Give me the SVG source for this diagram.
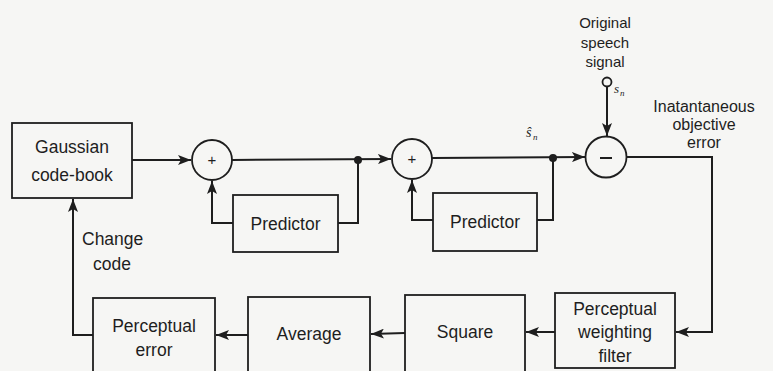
<svg xmlns="http://www.w3.org/2000/svg" width="773" height="371" viewBox="0 0 773 371">
<defs>
<marker id="ah" markerUnits="userSpaceOnUse" markerWidth="14" markerHeight="10" refX="13" refY="5" orient="auto">
<path d="M0,0 L13,5 L0,10 L3,5 Z" fill="#1e1e1e"/>
</marker>
<style>
.bx{fill:none;stroke:#1e1e1e;stroke-width:1.8}
.ln{fill:none;stroke:#1e1e1e;stroke-width:2}
.t{font-family:"Liberation Sans",Arial,sans-serif;font-size:17.5px;fill:#1e1e1e;text-anchor:middle}
.s{font-family:"Liberation Sans",Arial,sans-serif;font-size:15px;fill:#1e1e1e;text-anchor:middle}
.m{font-family:"Liberation Serif","Times New Roman",serif;font-style:italic;fill:#1e1e1e}
</style>
</defs>
<rect width="773" height="371" fill="#f6f6f4"/>

<g id="codebook">
<rect class="bx" x="12" y="123" width="120" height="75"/>
<text class="t" x="72" y="153">Gaussian</text>
<text class="t" x="72" y="181">code-book</text>
</g>
<g id="sum1">
<circle class="bx" cx="212" cy="160" r="20"/>
<text class="s" x="212" y="165" style="font-size:15px">+</text>
</g>
<g id="predictor1">
<rect class="bx" x="233" y="195" width="105" height="57"/>
<text class="t" x="285.5" y="230">Predictor</text>
</g>
<g id="sum2">
<circle class="bx" cx="412" cy="159" r="20"/>
<text class="s" x="412" y="164" style="font-size:15px">+</text>
</g>
<g id="predictor2">
<rect class="bx" x="433" y="193" width="104" height="58"/>
<text class="t" x="485" y="228">Predictor</text>
</g>
<g id="diff">
<circle class="bx" cx="606" cy="157" r="20.5"/>
<line class="ln" x1="600" y1="158" x2="612" y2="158"/>
</g>
<g id="input">
<circle class="bx" cx="607" cy="82" r="4.5"/>
<text class="s" x="605" y="28">Original</text>
<text class="s" x="605" y="48">speech</text>
<text class="s" x="605" y="67">signal</text>
<text class="m" x="614" y="93" style="font-size:13px">s</text>
<text class="m" x="620" y="96" style="font-size:9px">n</text>
</g>
<g id="error-label">
<text class="s" x="704" y="112" style="font-size:16px">Inatantaneous</text>
<text class="s" x="704" y="130" style="font-size:16px">objective</text>
<text class="s" x="704" y="148" style="font-size:16px">error</text>
</g>
<g id="shat-label">
<text class="m" x="526" y="137" style="font-size:14px">ŝ</text>
<text class="m" x="533" y="140" style="font-size:9px">n</text>
</g>
<g id="pwf">
<rect class="bx" x="555" y="293" width="120" height="75"/>
<text class="t" x="615" y="315">Perceptual</text>
<text class="t" x="615" y="338">weighting</text>
<text class="t" x="615" y="362">filter</text>
</g>
<g id="square">
<rect class="bx" x="405" y="295" width="120" height="78"/>
<text class="t" x="465" y="338">Square</text>
</g>
<g id="average">
<rect class="bx" x="248" y="297" width="122" height="76"/>
<text class="t" x="309" y="340">Average</text>
</g>
<g id="perr">
<rect class="bx" x="93" y="298" width="122" height="75"/>
<text class="t" x="154" y="332">Perceptual</text>
<text class="t" x="154" y="356">error</text>
</g>
<text class="t" x="82" y="245" style="text-anchor:start">Change</text>
<text class="t" x="93" y="270" style="text-anchor:start">code</text>

<g id="connectors">
<line class="ln" x1="132" y1="160" x2="191" y2="160" marker-end="url(#ah)"/>
<line class="ln" x1="232" y1="160" x2="391" y2="159" marker-end="url(#ah)"/>
<polyline class="ln" points="338,223 358,223 358,160"/>
<polyline class="ln" points="233,223 212,223 212,181" marker-end="url(#ah)"/>
<line class="ln" x1="432" y1="158" x2="585" y2="157" marker-end="url(#ah)"/>
<polyline class="ln" points="537,220 553,220 553,158"/>
<polyline class="ln" points="433,220 412,220 412,180" marker-end="url(#ah)"/>
<line class="ln" x1="607" y1="86.5" x2="607" y2="136" marker-end="url(#ah)"/>
<polyline class="ln" points="627,157 712,157 712,332 676,332" marker-end="url(#ah)"/>
<line class="ln" x1="555" y1="332" x2="526" y2="332" marker-end="url(#ah)"/>
<line class="ln" x1="405" y1="333" x2="371" y2="334" marker-end="url(#ah)"/>
<line class="ln" x1="248" y1="335" x2="216" y2="335" marker-end="url(#ah)"/>
<polyline class="ln" points="93,335 73,335 73,199" marker-end="url(#ah)"/>
<circle cx="358" cy="160" r="4" fill="#1e1e1e"/>
<circle cx="553" cy="158" r="4" fill="#1e1e1e"/>
</g>
</svg>
